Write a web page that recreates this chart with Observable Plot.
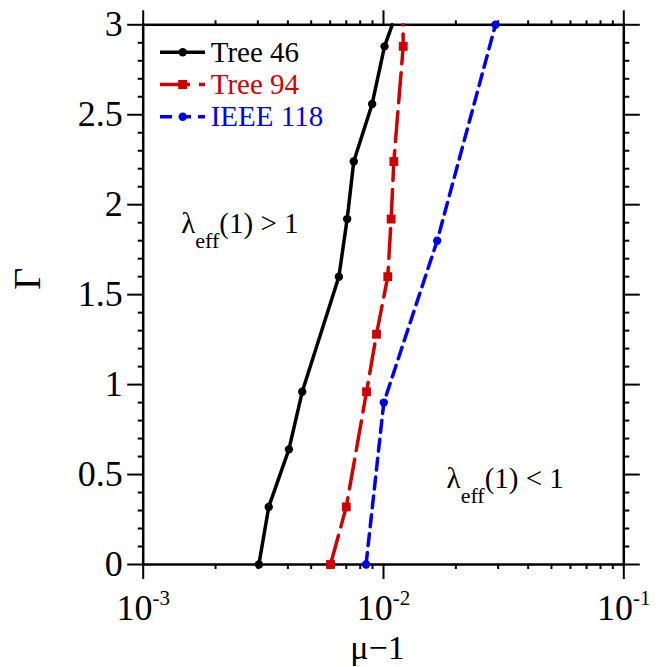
<!DOCTYPE html>
<html><head><meta charset="utf-8">
<script src="https://cdn.jsdelivr.net/npm/d3@7"></script>
<script src="https://cdn.jsdelivr.net/npm/@observablehq/plot@0.6"></script>
<style>html,body{margin:0;padding:0;background:#fff} svg text{font-family:"Liberation Serif","Times New Roman",serif;}</style>
</head><body><div id="chart"></div>
<script>
// ---- data ----
const seriesNames = ["Tree 46", "Tree 94", "IEEE 118"];
const seriesColors = ["#000000", "#cc0000", "#0000ee"];
const gammaTree46 = [0, 0.32, 0.64, 0.96, 1.6, 1.92, 2.24, 2.56, 2.88, 3];
const muTree46 = [0.00303, 0.00333, 0.00404, 0.00459, 0.00652, 0.00706, 0.00752, 0.00897, 0.0101, 0.01087];
const gammaTree94 = [0, 0.32, 0.96, 1.28, 1.6, 1.92, 2.24, 2.88, 3];
const muTree94 = [0.00602, 0.0070, 0.0085, 0.00935, 0.01042, 0.01076, 0.01104, 0.01208, 0.01206];
const gammaIEEE118 = [0, 0.9, 1.8, 3];
const muIEEE118 = [0.00846, 0.01003, 0.01673, 0.02924];
const markerAtTop = [false, false, true];
const xMajorTicks = [1e-3, 1e-2, 1e-1];
const yMajorTicks = [0, 0.5, 1, 1.5, 2, 2.5, 3];
const annoText = ["λ|eff|(1) > 1", "λ|eff|(1) < 1"];
const annoMu = [0.00144, 0.0183];
const annoGamma = [1.895, 0.478];
const xLabel = "μ−1";
const yLabel = "Γ";

// ---- derived tables ----
const gammas = [gammaTree46, gammaTree94, gammaIEEE118];
const mus = [muTree46, muTree94, muIEEE118];
const series = seriesNames.map((name, i) => mus[i].map((m, j) => ({series: name, mu: m, gamma: gammas[i][j]})));
const markers = series.map((rows, i) => rows.filter(d => markerAtTop[i] || d.gamma < 3));
const xMinorTicks = [];
for (const dec of [1e-3, 1e-2]) for (let k = 2; k <= 9; k++) xMinorTicks.push(+(k * dec).toPrecision(3));
const yMinorTicks = d3.range(0, 31).map(i => i / 10).filter(v => !yMajorTicks.some(t => Math.abs(t - v) < 1e-9));
const annotations = annoText.map((t, i) => ({text: t, mu: annoMu[i], gamma: annoGamma[i]}));

const blank = () => "";
const dashes = [null, "30,9", "12,7"];
const FONT = "Liberation Serif";

const marks = [
  Plot.axisX(xMinorTicks, {anchor: "bottom", tickSize: 5, strokeWidth: 2, tickFormat: blank, label: null}),
  Plot.axisX(xMinorTicks, {anchor: "top", tickSize: 5, strokeWidth: 2, tickFormat: blank, label: null}),
  Plot.axisX(xMajorTicks, {anchor: "bottom", tickSize: 15, strokeWidth: 2, tickPadding: 15, fontSize: 36,
    tickFormat: d => "10^" + Math.round(Math.log10(d)), label: null}),
  Plot.axisX(xMajorTicks, {anchor: "top", tickSize: 15, strokeWidth: 2, tickFormat: blank, label: null}),
  Plot.axisY(yMinorTicks, {anchor: "left", tickSize: 5, strokeWidth: 2, tickFormat: blank, label: null}),
  Plot.axisY(yMinorTicks, {anchor: "right", tickSize: 5, strokeWidth: 2, tickFormat: blank, label: null}),
  Plot.axisY(yMajorTicks, {anchor: "left", tickSize: 15.5, strokeWidth: 2, tickPadding: 5, fontSize: 36,
    tickFormat: d => String(d), label: null}),
  Plot.axisY(yMajorTicks, {anchor: "right", tickSize: 15.5, strokeWidth: 2, tickFormat: blank, label: null}),
  Plot.frame({stroke: "black", strokeWidth: 2.5}),
  Plot.text([yLabel], {frameAnchor: "left", text: d => d, rotate: -90, dx: -115, dy: -5, fontSize: 38}),
  Plot.text([xLabel], {frameAnchor: "bottom", text: d => d, dx: -6, dy: 94, fontSize: 34}),
  Plot.text(annotations, {x: "mu", y: "gamma", text: "text", textAnchor: "start", fontSize: 29})
];
series.forEach((rows, i) => {
  marks.push(Plot.line(rows, {x: "mu", y: "gamma", stroke: seriesColors[i], strokeWidth: 3.5,
    strokeDasharray: dashes[i] || undefined, strokeLinejoin: "round"}));
  marks.push(Plot.dot(markers[i], {x: "mu", y: "gamma", fill: seriesColors[i], stroke: "none",
    symbol: i === 1 ? "square" : "circle", r: i === 1 ? 5 : 4.2}));
});

const chart = Plot.plot({
  width: 669, height: 667,
  marginLeft: 142.7, marginRight: 45.7, marginTop: 24.3, marginBottom: 103,
  x: {type: "log", domain: [1e-3, 1e-1]},
  y: {domain: [0, 3]},
  style: {fontFamily: FONT, background: "white", color: "black"},
  marks
});
document.getElementById("chart").appendChild(chart);

const svg = d3.select(chart);
// superscript exponents on x tick labels (base keeps the baseline Plot gave it)
svg.selectAll('[aria-label="x-axis tick label"] text').each(function() {
  const t = this.textContent;
  if (!t.includes("^")) return;
  const [base, exp] = t.split("^");
  const el = d3.select(this);
  el.text(null);
  el.append("tspan").text(base);
  el.append("tspan").attr("dy", -15).attr("font-size", 21).text(String(exp).replace("−", "-"));
});
// subscripts in annotations
svg.selectAll("text").each(function() {
  const t = this.textContent;
  if (!t.includes("|")) return;
  const [a, sub, b] = t.split("|");
  const el = d3.select(this);
  el.text(null);
  el.append("tspan").text(a);
  el.append("tspan").attr("dy", 15).attr("font-size", 22).text(sub);
  el.append("tspan").attr("dy", -15).text(b);
});
// legend (inside top-left)
const lg = svg.append("g").attr("font-family", FONT).attr("text-anchor", "start");
seriesNames.forEach((name, i) => {
  const yy = 52.3 + 32.2 * i;
  lg.append("line").attr("x1", 160).attr("x2", 205).attr("y1", yy).attr("y2", yy)
    .attr("stroke", seriesColors[i]).attr("stroke-width", 3.5)
    .attr("stroke-dasharray", dashes[i] || null);
  if (i === 1) {
    lg.append("rect").attr("x", 182.7 - 4.5).attr("y", yy - 4.5).attr("width", 9).attr("height", 9).attr("fill", seriesColors[i]);
  } else {
    lg.append("circle").attr("cx", 182.7).attr("cy", yy).attr("r", 4.2).attr("fill", seriesColors[i]);
  }
  lg.append("text").attr("x", 210.7).attr("y", yy + 9.4).attr("font-size", 29)
    .attr("text-anchor", "start").attr("fill", seriesColors[i]).text(name);
});
</script>
</body></html>
